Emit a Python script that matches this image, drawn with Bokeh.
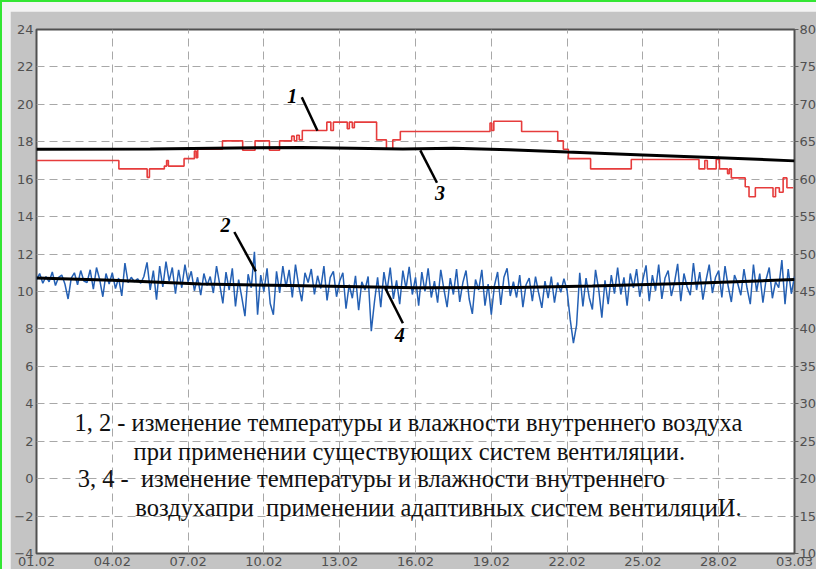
import numpy as np
from bokeh.plotting import figure
from bokeh.models import Range1d, LinearAxis, FixedTicker, Label
from bokeh.embed import file_html
from bokeh.resources import INLINE

# ---------------- data ----------------
tick_days = [0, 3, 6, 9, 12, 15, 18, 21, 24, 27, 30]
tick_labels = ["01.02", "04.02", "07.02", "10.02", "13.02", "16.02",
               "19.02", "22.02", "25.02", "28.02", "03.03"]
temp_ticks = list(range(-4, 25, 2))
hum_ticks = list(range(10, 81, 5))

# curve 1: indoor temperature, existing ventilation (step series, days since 01.02)
temp_day = [0.0, 3.26, 4.38, 4.47, 5.06, 5.15, 5.22, 5.84, 6.25, 6.32, 6.38, 7.36,
            8.16, 8.65, 9.22, 9.62, 10.1, 10.2, 10.3, 10.4, 10.52, 11.49, 11.65,
            11.75, 12.3, 12.38, 12.5, 12.58, 13.46, 13.85, 14.1, 14.4, 17.95,
            18.02, 18.1, 19.2, 20.63, 20.85, 21.05, 21.93, 23.54, 26.22, 26.45,
            26.55, 26.9, 27.03, 27.35, 27.42, 27.5, 28.05, 28.2, 28.45, 29.15,
            29.25, 29.4, 29.55, 29.7, 29.95]
temp_val = [17.0, 16.55, 16.1, 16.55, 16.7, 17.0, 16.7, 17.1, 17.5, 17.15, 17.6, 18.05,
            17.55, 18.05, 17.55, 18.05, 18.3, 18.05, 18.35, 18.1, 18.6, 19.05, 18.6,
            19.05, 18.7, 19.05, 18.75, 19.05, 18.1, 17.6, 18.1, 18.55, 19.0,
            18.6, 19.1, 18.55, 18.05, 17.6, 17.1, 16.55, 17.05, 16.55, 17.0,
            16.55, 17.05, 16.55, 16.3, 16.55, 16.07, 15.6, 15.06, 15.54, 15.06,
            15.54, 15.3, 16.07, 15.54, 15.54]

# curve 2: indoor relative humidity (%), existing ventilation, every 3 hours
hum_val = [
    46.6, 47.4, 46.1, 47.0, 46.3, 47.6, 45.8, 46.9,
    47.2, 46.0, 44.0, 46.8, 47.5, 45.9, 47.8, 46.4,
    46.2, 47.9, 45.3, 48.2, 46.6, 44.3, 47.4, 46.0,
    47.5, 45.4, 46.8, 44.4, 48.8, 46.2, 46.9, 46.3,
    46.7, 46.1, 47.0, 48.9, 45.2, 47.8, 43.9, 48.4,
    45.6, 49.0, 46.4, 48.2, 44.7, 47.9, 45.5, 48.6,
    46.3, 47.7, 45.1, 46.9, 44.5, 47.4, 45.8, 47.0,
    44.8, 48.4, 46.0, 43.4, 47.6, 45.2, 48.1, 43.0,
    46.6, 44.2, 41.7, 47.3, 45.5, 50.3, 41.9, 47.2,
    45.0, 48.1, 43.4, 41.9, 47.7, 44.8, 48.4, 45.6,
    47.9, 44.2, 48.6, 45.8, 43.7, 47.5, 46.2, 48.0,
    44.6, 47.1, 45.4, 48.4, 43.8, 46.9, 47.7, 44.3,
    46.4, 47.5, 42.7, 45.9, 44.1, 47.1, 42.5, 46.3,
    45.2, 47.0, 39.7, 43.6, 46.9, 42.9, 47.6, 45.1,
    48.2, 44.0, 46.5, 43.3, 47.8, 45.4, 48.3, 44.6,
    46.9, 43.1, 47.6, 45.0, 48.1, 44.2, 46.4, 43.5,
    47.9, 45.3, 42.9, 46.8, 44.6, 48.0, 43.6, 46.2,
    47.8, 44.0, 42.0, 46.6, 45.2, 47.9, 43.1, 46.0,
    41.9, 45.8, 47.6, 43.2, 46.9, 48.1, 44.4, 46.3,
    44.2, 47.2, 42.9, 45.9, 46.8, 43.7, 47.0, 44.8,
    42.8, 46.4, 44.1, 47.0, 43.5, 46.2, 44.9, 46.7,
    45.1, 41.2, 38.1, 40.5, 47.5, 43.0, 46.8, 44.2,
    42.6, 47.9, 45.3, 41.5, 46.5, 43.3, 47.2, 44.7,
    48.2, 44.6, 46.9, 43.1, 47.4, 45.5, 48.0, 44.3,
    46.6, 48.5, 43.7, 47.2, 45.1, 48.6, 44.0, 46.8,
    47.8, 44.4, 46.2, 48.7, 43.7, 47.4, 45.6, 44.5,
    48.8, 45.2, 47.6, 43.9, 46.5, 48.6, 44.8, 46.9,
    47.8, 44.2, 48.4, 45.7, 43.6, 47.2, 46.1, 44.5,
    48.0, 45.4, 43.3, 48.6, 45.0, 47.4, 43.5, 46.6,
    48.2, 44.1, 46.3, 45.5, 49.2, 43.3, 48.0, 44.7,
    47.0]
hum_day = np.arange(len(hum_val)) / 8.0

# curve 3: temperature, adaptive ventilation
trend_t_day = [0, 4.5, 10.5, 14.5, 16.5, 18.7, 21.0, 24.0, 27.0, 30.0]
trend_t_val = [17.6, 17.62, 17.7, 17.62, 17.65, 17.58, 17.45, 17.3, 17.15, 16.98]

# curve 4: humidity, adaptive ventilation
trend_h_day = [0, 3, 6.5, 10, 15, 19, 22, 26, 30]
trend_h_val = [46.8, 46.5, 46.0, 45.8, 45.5, 45.55, 45.75, 46.1, 46.6]

notes = ["1, 2 - изменение температуры и влажности внутреннего воздуха",
         "при применении существующих систем вентиляции.",
         "3, 4 -\u00a0 изменение температуры и влажности внутреннего",
         "воздухапри\u00a0 применении адаптивных систем вентиляциИ."]

# ---------------- layout / annotation positions ----------------
note_x = [1.5, 3.84, 1.63, 3.91]
note_y = [3.0, 1.45, 0.0, -1.55]
num_text = ["1", "2", "3", "4"]
num_x = [10.12, 7.48, 15.97, 14.38]
num_y = [20.43, 13.55, 15.28, 7.67]
lead_x0 = [10.5, 7.83, 15.19, 13.8]
lead_y0 = [20.38, 13.18, 17.54, 10.19]
lead_x1 = [11.12, 8.68, 15.85, 14.5]
lead_y1 = [18.59, 11.08, 15.81, 8.3]

p = figure(width=816, height=569, output_backend="svg", toolbar_location=None,
           x_range=Range1d(0, 30), y_range=Range1d(-4, 24),
           min_border_left=26, min_border_top=18, min_border_bottom=27,
           min_border_right=32)
p.styles = {"border-left": "2px solid #33e633", "border-top": "2px solid #33e633",
            "padding-left": "8px", "padding-top": "9px",
            "background-color": "#f4f4f4"}
p.extra_y_ranges = {"hum": Range1d(10, 80)}

p.border_fill_color = "#c4c4c4"
p.background_fill_color = "white"
p.outline_line_color = "#505050"
p.outline_line_width = 2

# grids
p.xgrid.ticker = FixedTicker(ticks=tick_days)
p.ygrid.ticker = FixedTicker(ticks=temp_ticks)
for g in (p.xgrid[0], p.ygrid[0]):
    g.grid_line_color = "#a8a8a8"
    g.grid_line_dash = "8 5"
    g.grid_line_width = 1

# axes
right = LinearAxis(y_range_name="hum", ticker=FixedTicker(ticks=hum_ticks))
p.add_layout(right, "right")

p.xaxis.ticker = FixedTicker(ticks=tick_days)
p.xaxis.major_label_overrides = {d: s for d, s in zip(tick_days, tick_labels)}
p.yaxis[0].ticker = FixedTicker(ticks=temp_ticks)

for ax in [p.xaxis[0], p.yaxis[0], right]:
    ax.axis_line_color = None
    ax.major_tick_in = 0
    ax.major_tick_out = 0
    ax.minor_tick_line_color = None
    ax.major_label_text_font = "DejaVu Sans"
    ax.major_label_text_font_size = "13px"
    ax.major_label_text_color = "#505050"
    ax.major_label_standoff = 3
right.major_tick_out = 4
right.major_tick_line_color = "#606060"
right.major_label_standoff = 1

# series
p.line(hum_day, hum_val, y_range_name="hum", line_color="#2460b4", line_width=1.5)
p.step(temp_day, temp_val, mode="after", line_color="#e63c3c", line_width=1.6)
p.line(trend_t_day, trend_t_val, line_color="black", line_width=3)
p.line(trend_h_day, trend_h_val, y_range_name="hum", line_color="black", line_width=3)

# number labels and leader lines
p.segment(lead_x0, lead_y0, lead_x1, lead_y1, line_color="black", line_width=2.5)
for t, x, y in zip(num_text, num_x, num_y):
    p.add_layout(Label(x=x, y=y, text=t, text_font="Liberation Serif",
                       text_font_style="bold italic", text_font_size="20px",
                       text_align="center", text_baseline="middle",
                       text_color="black"))

for t, x, y in zip(notes, note_x, note_y):
    p.add_layout(Label(x=x, y=y, text=t, text_font="Liberation Serif",
                       text_font_size="24.5px", text_align="left",
                       text_baseline="middle", text_color="#111111"))

open("out.html", "w").write(file_html(p, INLINE))
